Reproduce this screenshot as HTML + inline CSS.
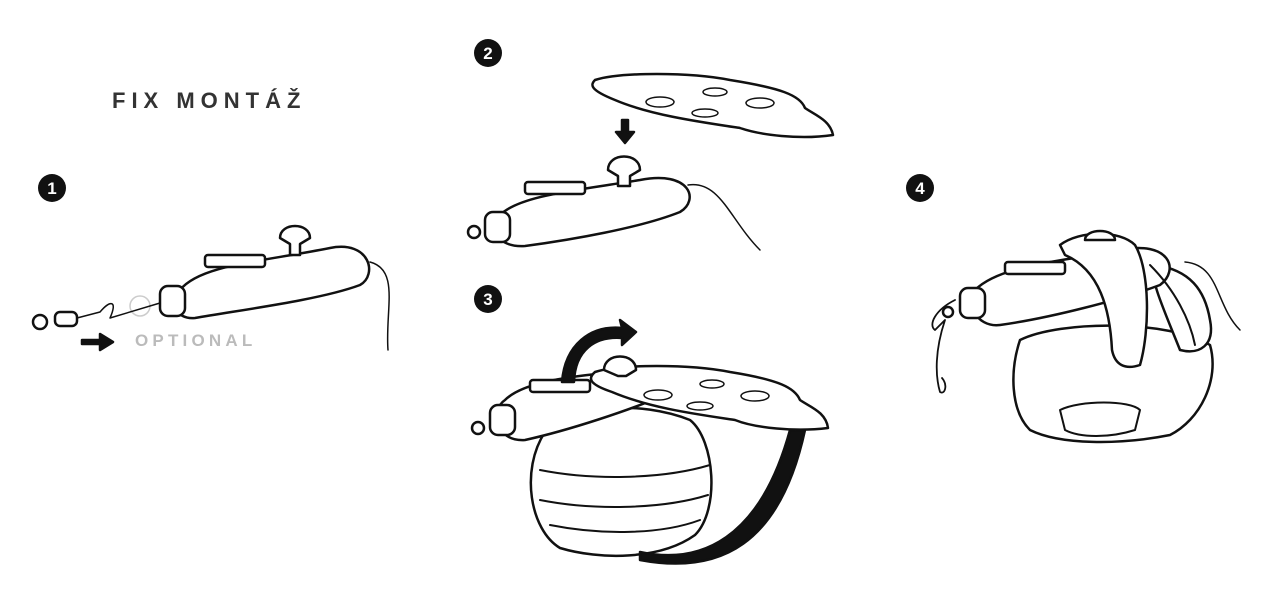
<!DOCTYPE html>
<html><head><meta charset="utf-8"><style>
html,body{margin:0;padding:0;background:#fff;}
svg{display:block;}
</style></head><body>
<svg width="1273" height="613" viewBox="0 0 1273 613" xmlns="http://www.w3.org/2000/svg">
<g font-family="Liberation Sans, sans-serif">
<text x="112" y="108" font-size="22" font-weight="bold" letter-spacing="6" fill="#333">FIX MONTÁŽ</text>
<text x="135" y="346" font-size="17" font-weight="bold" letter-spacing="4.2" fill="#bbb">OPTIONAL</text>
<g fill="#111"><circle cx="52" cy="188" r="14"/><circle cx="488" cy="53" r="14"/><circle cx="488" cy="299" r="14"/><circle cx="920" cy="188" r="14"/></g>
<g fill="#fff" font-size="17" font-weight="bold" text-anchor="middle"><text x="52" y="194">1</text><text x="488" y="59">2</text><text x="488" y="305">3</text><text x="920" y="194">4</text></g>
</g>
<g fill="#fff" stroke="#111" stroke-width="2.5" stroke-linejoin="round" stroke-linecap="round">
<!-- step 1 -->
<path d="M370,262 C400,270 385,310 388,350" fill="none" stroke-width="1.5"/>
<path d="M180,290 C200,265 260,262 330,248 C370,240 378,275 360,285 C320,300 240,310 195,318 C175,320 168,300 180,290Z"/>
<rect x="160" y="286" width="25" height="30" rx="8"/>
<path d="M280,238 C280,222 310,222 310,238 L300,244 L300,255 L290,255 L290,244Z"/>
<rect x="205" y="255" width="60" height="12" rx="3"/>
<circle cx="140" cy="306" r="10" stroke="#ccc" stroke-width="1.5"/>
<rect x="55" y="312" width="22" height="14" rx="5"/>
<circle cx="40" cy="322" r="7"/>
<path d="M77,318 L100,312 C110,300 118,300 110,318 L160,303" fill="none" stroke-width="1.5"/>
<path d="M82,340 L100,340 L100,334 L113,342 L100,350 L100,344 L82,344Z" fill="#111"/>
<!-- step 2 -->
<path d="M595,80 C620,72 690,72 730,80 C780,88 800,95 805,108 C815,115 830,120 833,135 C800,140 760,135 740,128 C700,122 650,115 615,100 C590,90 590,85 595,80Z"/>
<g stroke-width="1.5"><ellipse cx="660" cy="102" rx="14" ry="5"/><ellipse cx="715" cy="92" rx="12" ry="4"/><ellipse cx="760" cy="103" rx="14" ry="5"/><ellipse cx="705" cy="113" rx="13" ry="4"/></g>
<path d="M622,120 L628,120 L628,132 L634,132 L625,143 L616,132 L622,132Z" fill="#111"/>
<path d="M688,185 C720,180 730,220 760,250" fill="none" stroke-width="1.5"/>
<path d="M500,215 C520,195 580,190 640,180 C690,170 700,200 680,212 C640,228 570,240 525,246 C495,248 488,225 500,215Z"/>
<rect x="485" y="212" width="25" height="30" rx="8"/>
<circle cx="474" cy="232" r="6"/>
<path d="M608,170 C608,152 640,152 640,170 L630,176 L630,186 L618,186 L618,176Z"/>
<rect x="525" y="182" width="60" height="12" rx="3"/>
<!-- step 3 -->
<path d="M545,432 C520,470 530,530 560,548 C600,560 660,560 695,535 C720,510 715,440 690,420 C640,400 570,405 545,432Z"/>
<g stroke-width="2" fill="none"><path d="M540,470 C590,480 660,480 710,465"/><path d="M540,500 C590,510 660,510 708,495"/><path d="M550,525 C600,535 660,535 700,520"/></g>
<path d="M640,552 C700,565 760,540 790,430 L805,430 C780,545 720,575 640,560Z" fill="#111"/>
<path d="M505,400 C525,380 580,375 640,370 C670,365 680,385 665,395 C630,410 570,430 525,440 C495,442 490,410 505,400Z"/>
<rect x="490" y="405" width="25" height="30" rx="8"/>
<circle cx="478" cy="428" r="6"/>
<rect x="530" y="380" width="60" height="12" rx="3"/>
<path d="M595,372 C620,364 690,364 730,372 C780,380 795,388 800,400 C810,407 826,412 828,428 C795,432 755,428 735,420 C695,414 650,408 612,392 C588,384 588,378 595,372Z"/>
<g stroke-width="1.5"><ellipse cx="658" cy="395" rx="14" ry="5"/><ellipse cx="712" cy="384" rx="12" ry="4"/><ellipse cx="755" cy="396" rx="14" ry="5"/><ellipse cx="700" cy="406" rx="13" ry="4"/></g>
<path d="M604,370 C604,352 636,352 636,370 L626,376 L618,376Z"/>
<path d="M562,382 C565,345 590,325 622,328 L620,320 L636,332 L622,345 L622,338 C595,336 575,350 574,382Z" fill="#111"/>
<!-- step 4 -->
<path d="M1020,340 C1060,320 1170,320 1210,345 C1220,380 1200,420 1170,435 C1120,445 1060,445 1030,430 C1010,410 1010,370 1020,340Z"/>
<path d="M1060,410 C1080,400 1130,400 1140,410 L1135,430 C1110,438 1080,438 1065,430Z" stroke-width="2"/>
<path d="M1155,265 C1190,270 1205,290 1210,320 C1215,345 1200,355 1180,350 C1160,300 1150,280 1155,265Z"/>
<path d="M1185,262 C1220,265 1215,305 1240,330" fill="none" stroke-width="1.5"/>
<path d="M975,290 C1000,265 1060,262 1120,250 C1170,240 1180,270 1160,285 C1120,300 1050,318 1000,325 C975,328 965,300 975,290Z"/>
<rect x="960" y="288" width="25" height="30" rx="8"/>
<rect x="1005" y="262" width="60" height="12" rx="3"/>
<path d="M1060,245 C1080,230 1120,230 1135,245 C1150,270 1150,330 1140,365 C1125,370 1115,365 1112,350 C1110,310 1100,270 1065,255Z"/>
<path d="M1085,240 C1085,228 1115,228 1115,240Z"/>
<path d="M1150,265 C1175,290 1190,320 1195,345" fill="none" stroke-width="2"/>
<path d="M955,300 C935,310 928,325 935,330 L945,320 C935,350 935,375 940,392 C945,395 948,385 942,378" fill="none" stroke-width="1.8"/>
<circle cx="948" cy="312" r="5"/>
</g>
</svg>
</body></html>
